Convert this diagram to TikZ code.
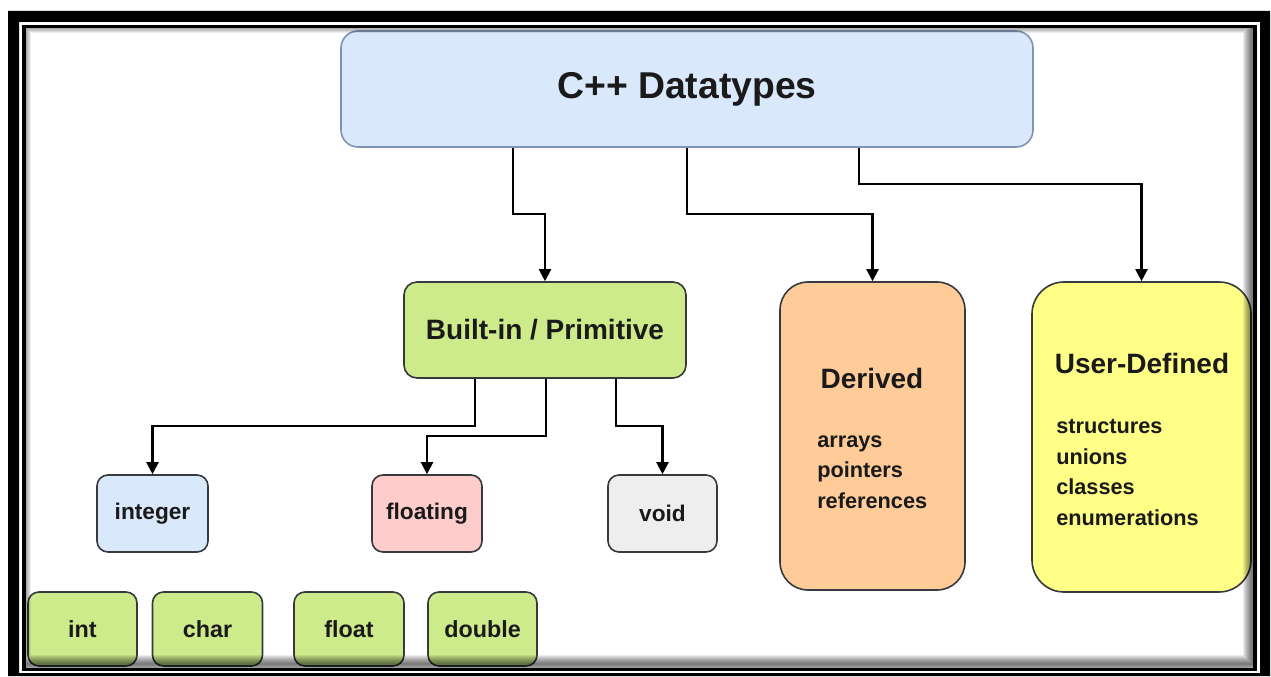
\documentclass[tikz,border=0pt]{standalone}
\usepackage{fontspec}
\setmainfont{Liberation Sans}
\usetikzlibrary{arrows.meta}

% one drawing unit = 0.75pt
\newdimen\pxu \pxu=0.75pt

\definecolor{ink}{HTML}{1A1A1A}
\definecolor{edge}{HTML}{36393D}
\definecolor{blueedge}{HTML}{7F93B5}
\definecolor{bluefill}{HTML}{DAE8FC}
\definecolor{greenfill}{HTML}{CDEB8B}
\definecolor{redfill}{HTML}{FFCCCC}
\definecolor{grayfill}{HTML}{EEEEEE}
\definecolor{peachfill}{HTML}{FFCC99}
\definecolor{yellowfill}{HTML}{FFFF88}

\begin{document}
\begin{tikzpicture}[x=0.75pt, y=-0.75pt,
  box/.style={draw=edge, line width=1.2pt, inner sep=0pt, text=ink,
    font=\bfseries\fontsize{17}{20}\selectfont},
  smallbox/.style={box, minimum height=77\pxu, rounded corners=11\pxu},
  leafbox/.style={box, fill=greenfill, minimum height=74\pxu, minimum width=110\pxu,
    rounded corners=11\pxu, font=\bfseries\fontsize{17.5}{20}\selectfont},
  heading/.style={inner sep=0pt, text=ink, font=\bfseries\fontsize{21}{24}\selectfont},
  listing/.style={inner sep=0pt, text=ink, align=left,
    font=\bfseries\fontsize{16.3}{22.9}\selectfont},
  conn/.style={draw=black, line width=1.6pt, -{Triangle[width=9pt,length=9pt]}},
]

% page background
\fill[white] (0,0) rectangle (1271,677);
\useasboundingbox (0,0) rectangle (1271,677);

% root
\node[box, draw=blueedge, fill=bluefill, minimum width=692\pxu, minimum height=116\pxu,
  rounded corners=17\pxu, font=\bfseries\fontsize{28}{32}\selectfont] (root) at (687,89) {C++ Datatypes};

% second level
\node[box, fill=greenfill, minimum width=282\pxu, minimum height=96\pxu,
  rounded corners=13\pxu, font=\bfseries\fontsize{21}{24}\selectfont] (prim) at (545,330) {Built-in / Primitive};

\node[box, fill=peachfill, minimum width=185\pxu, minimum height=308\pxu,
  rounded corners=28\pxu] (der) at (872.5,436) {};
\node[heading] (derhead) at (872,378) {Derived};
\node[listing, anchor=west] (derlist) at (817,472) {arrays\\pointers\\references};

\node[box, fill=yellowfill, minimum width=219\pxu, minimum height=310\pxu,
  rounded corners=32\pxu] (user) at (1141.5,437) {};
\node[heading] (userhead) at (1142,363) {User-Defined};
\node[listing, anchor=west] (userlist) at (1056,472.5) {structures\\unions\\classes\\enumerations};

% primitive kinds
\node[smallbox, fill=bluefill, minimum width=111\pxu] (integer) at (152.5,513.5) {integer};
\node[smallbox, fill=redfill, minimum width=110\pxu] (floating) at (427,513.5) {floating};
\node[smallbox, fill=grayfill, minimum width=109\pxu] (void) at (662.5,513.5) {void};

% concrete types
\node[leafbox, minimum width=109\pxu] (int) at (82.5,629) {int};
\node[leafbox] (char) at (207.5,629) {char};
\node[leafbox] (float) at (349,629) {float};
\node[leafbox, minimum width=109\pxu] (double) at (482.5,629) {double};

% connectors from the root
\draw[conn] (513,0 |- root.south) |- (545,214) -- (prim.north);
\draw[conn] (687,0 |- root.south) |- (872.5,214) -- (der.north);
\draw[conn] (859,0 |- root.south) |- (1141.5,184) -- (user.north);

% connectors from the primitive group
\draw[conn] (475,0 |- prim.south) |- (152.5,426) -- (integer.north);
\draw[conn] (546,0 |- prim.south) |- (427,436) -- (floating.north);
\draw[conn] (616,0 |- prim.south) |- (662.5,426) -- (void.north);

% inner shadow along the frame
\begin{scope}
  \clip (26,28.5) rectangle (1253,668);
  \foreach \w in {2,4,...,18}
    \draw[black, opacity=0.075, line width=\w\pxu] (22,24) rectangle (1252,664);
\end{scope}

% double frame
\fill[black, even odd rule] (8,11) rectangle (1270,676) (19,22) rectangle (1260,673);
\draw[black, line width=3.5\pxu] (24,26.5) rectangle (1255,669.5);

\end{tikzpicture}
\end{document}
